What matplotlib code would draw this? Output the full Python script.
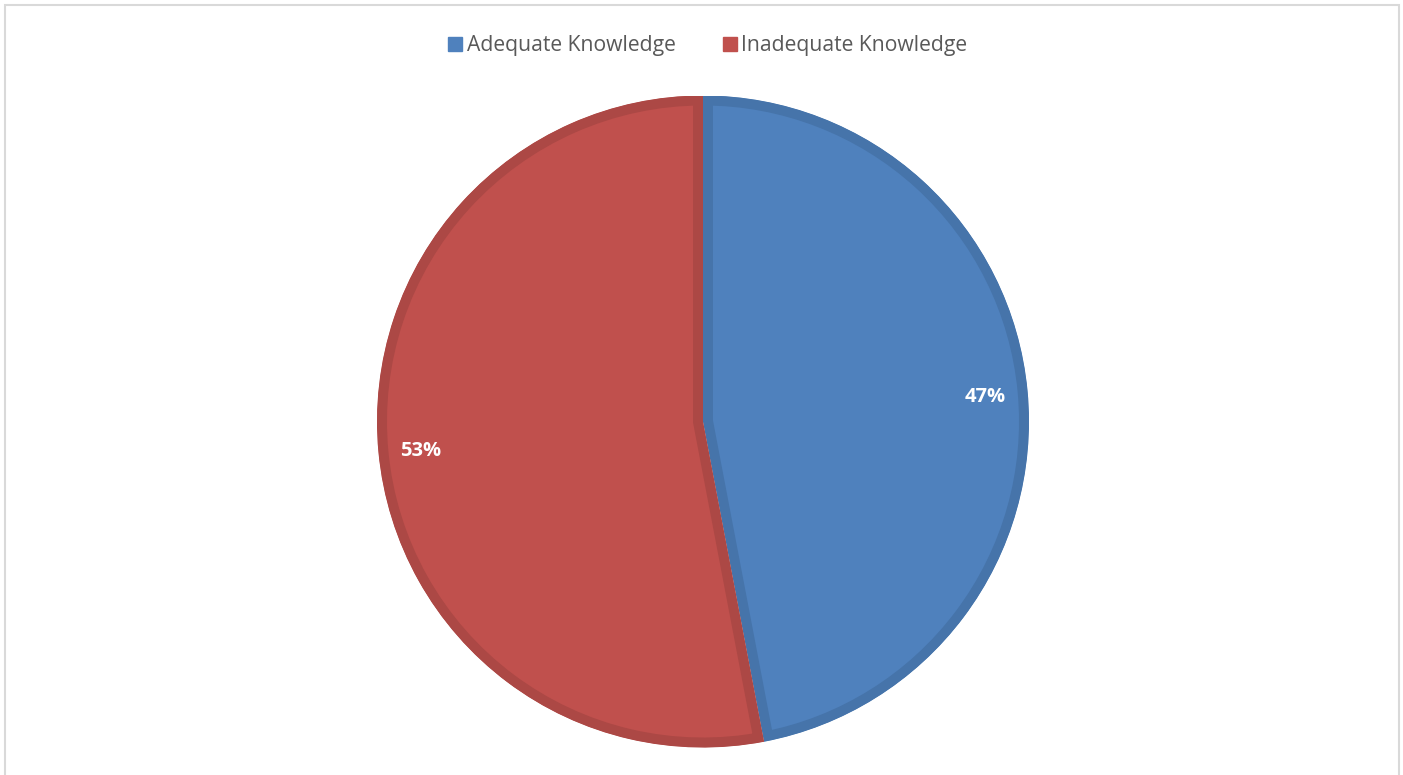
import matplotlib
matplotlib.use("Agg")
import matplotlib.pyplot as plt
from matplotlib.patches import Rectangle
from matplotlib.lines import Line2D

# Knowledge level shares (percent)
categories = ["Adequate Knowledge", "Inadequate Knowledge"]
shares = [47, 53]
fill_colors = ["#4F81BD", "#C0504D"]
edge_colors = ["#4674AA", "#AC4845"]

W, H = 1403, 775
fig = plt.figure(figsize=(W / 100, H / 100), dpi=100)
fig.patch.set_facecolor("white")

# light chart-area frame
fig.patches.append(Rectangle((5 / W, -0.05), (1399 - 5) / W, (H - 5) / H + 0.05,
                             transform=fig.transFigure, fill=False,
                             edgecolor="#D9D9D9", linewidth=1.5))

cx, cy, r = 703, 421.5, 326
ax = fig.add_axes([(cx - r) / W, (H - cy - r) / H, 2 * r / W, 2 * r / H])
ax.set_aspect("equal")

wedges, texts = ax.pie(shares, colors=fill_colors, startangle=90, counterclock=False,
                       radius=1.0, labels=[f"{v}%" for v in shares], labeldistance=0.87,
                       textprops=dict(color="white", fontsize=14.5, fontweight="bold",
                                      family=["Open Sans", "DejaVu Sans"]))
for w, ec in zip(wedges, edge_colors):
    w.set_edgecolor(ec)
    w.set_linewidth(14.4)  # half of the stroke stays inside the slice after clipping
    w.set_clip_on(True)
    w.set_clip_path(w.get_path(), w.get_transform())
for t in texts:
    t.set_ha("center")
    t.set_va("center_baseline")
ax.set_xlim(-1, 1)
ax.set_ylim(-1, 1)
ax.axis("off")

handles = [Line2D([], [], marker="s", linestyle="none", markersize=9.5,
                  markerfacecolor=c, markeredgecolor=c) for c in fill_colors]
fig.legend(handles, categories, loc="center", bbox_to_anchor=(706 / W, 1 - 46 / H),
           ncol=2, frameon=False, handletextpad=0.05, columnspacing=2.05,
           handlelength=1.0,
           prop=dict(family=["Open Sans", "DejaVu Sans"], size=15.2),
           labelcolor="#595959")

fig.savefig("out.png", dpi=100, facecolor="white")
